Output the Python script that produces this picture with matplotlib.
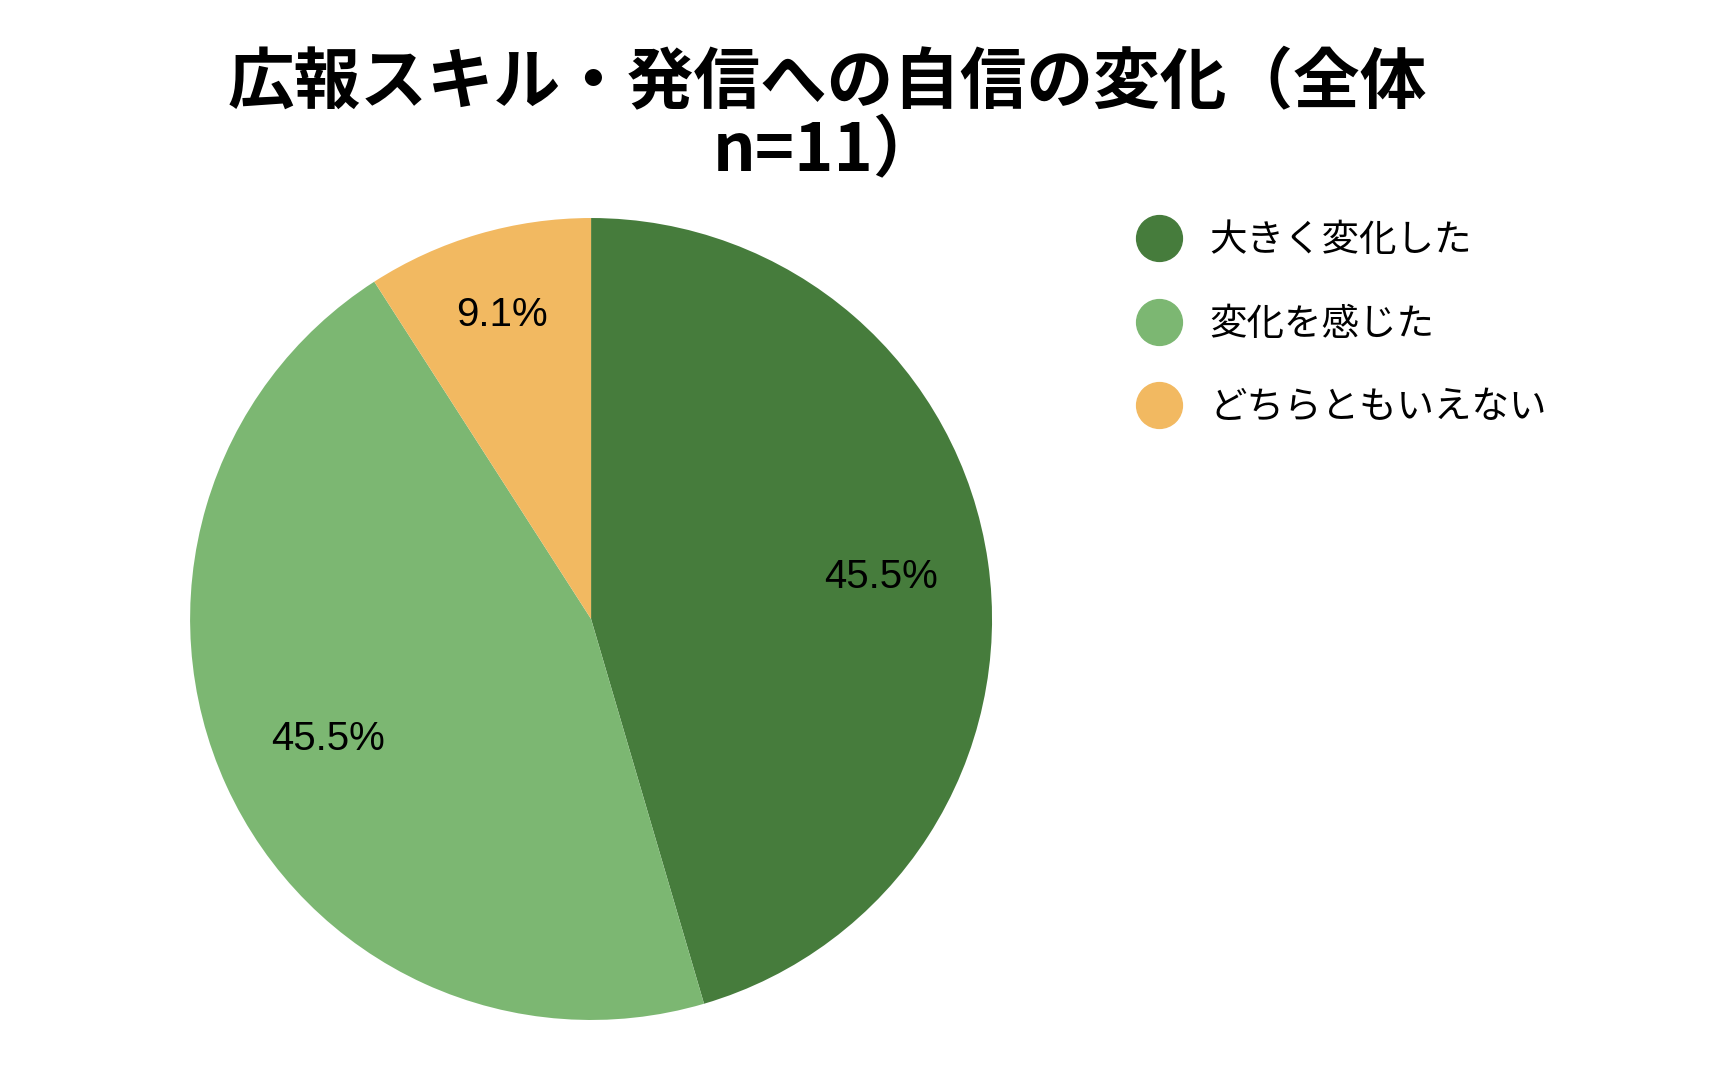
import numpy as np
import matplotlib
matplotlib.use("Agg")
import matplotlib.pyplot as plt
from matplotlib.lines import Line2D

plt.rcParams['font.family'] = ['Noto Sans CJK JP', 'DejaVu Sans']

title = "広報スキル・発信への自信の変化（全体\nn=11）"
categories = ["大きく変化した", "変化を感じた", "どちらともいえない"]
counts = [5, 5, 1]
colors = ["#467c3c", "#7cb772", "#f2b961"]
label_dist = [0.73, 0.72, 0.79]

fig = plt.figure(figsize=(17.26, 10.74), dpi=100)
ax = fig.add_axes([0.1101, 0.0503, 0.4647, 0.7467])

wedges, texts, autotexts = ax.pie(
    counts, colors=colors, startangle=90, counterclock=False,
    autopct="%1.1f%%", pctdistance=0.73, radius=1.0,
    wedgeprops=dict(linewidth=0),
    textprops=dict(fontsize=29, color="black", family=["Liberation Sans", "DejaVu Sans"]),
)
for w, t, d in zip(wedges, autotexts, label_dist):
    mid = np.deg2rad((w.theta1 + w.theta2) / 2)
    t.set_position((d * np.cos(mid), d * np.sin(mid)))

ax.set_xlim(-1, 1)
ax.set_ylim(-1, 1)
ax.set_aspect("equal")
ax.axis("off")

fig.text(0.479, 0.890, title, ha="center", va="center", fontsize=48,
         fontweight="bold", linespacing=1.02)

handles = [Line2D([], [], marker="o", linestyle="none", markersize=33,
                  markerfacecolor=c, markeredgecolor=c) for c in colors]
leg = fig.legend(handles, categories, loc="upper left",
                 bbox_to_anchor=(0.655, 0.794), frameon=False,
                 fontsize=27, labelspacing=1.19, handletextpad=0.6,
                 borderpad=0, borderaxespad=0, handlelength=1.5)

fig.savefig("out.png", dpi=100, facecolor="white")
